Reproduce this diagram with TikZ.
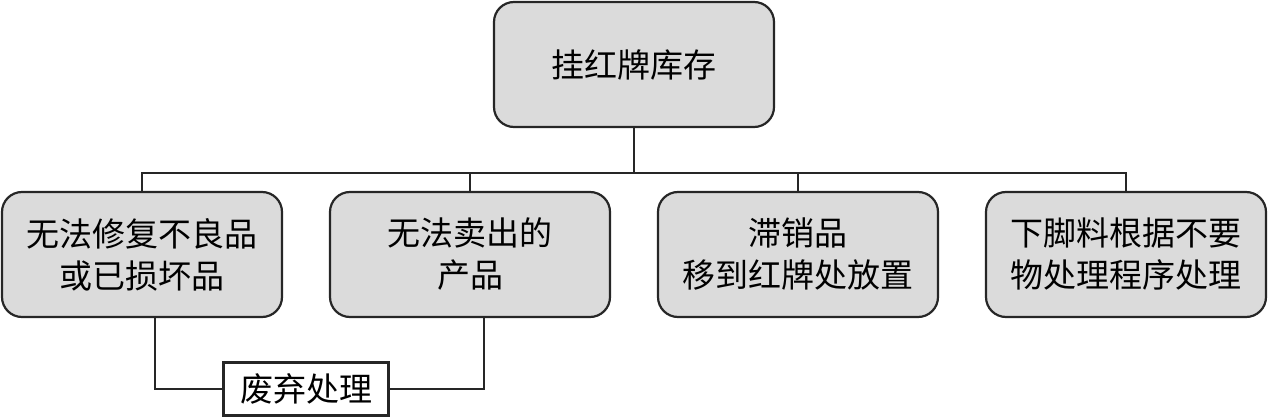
\documentclass[tikz,border=0pt]{standalone}
\usepackage{fontspec}
\newfontfamily\cjk{Noto Sans CJK SC}
\begin{document}
\begin{tikzpicture}[x=1pt,y=-1pt,
  box/.style={draw=black!85,line width=2.2pt,fill=black!14,rounded corners=20pt,
    minimum width=280pt,minimum height=125pt,inner sep=0pt,align=center,
    font=\cjk\fontsize{33}{42}\selectfont},
  plain/.style={draw=black!85,line width=2.2pt,fill=white,
    minimum width=165pt,minimum height=53pt,inner sep=0pt,
    font=\cjk\fontsize{33}{42}\selectfont},
  conn/.style={draw=black!85,line width=2.2pt}]
\useasboundingbox (0,0) rectangle (1269,417);
\node[box] (top) at (634,64.5) {挂红牌库存};
\node[box] (b1) at (142,254.5) {无法修复不良品\\或已损坏品};
\node[box] (b2) at (470,254.5) {无法卖出的\\产品};
\node[box] (b3) at (798,254.5) {滞销品\\移到红牌处放置};
\node[box] (b4) at (1126,254.5) {下脚料根据不要\\物处理程序处理};
\node[plain] (w) at (306,389) {废弃处理};
\coordinate (bar) at (634,173);
\draw[conn] (top.south) -- (bar);
\draw[conn] (b1.north) -- (b1.north |- bar) -- (b4.north |- bar) -- (b4.north);
\draw[conn] (b2.north) -- (b2.north |- bar);
\draw[conn] (b3.north) -- (b3.north |- bar);
\draw[conn] ([xshift=13pt]b1.south) |- (w.west);
\draw[conn] ([xshift=14pt]b2.south) |- (w.east);
\end{tikzpicture}
\end{document}
